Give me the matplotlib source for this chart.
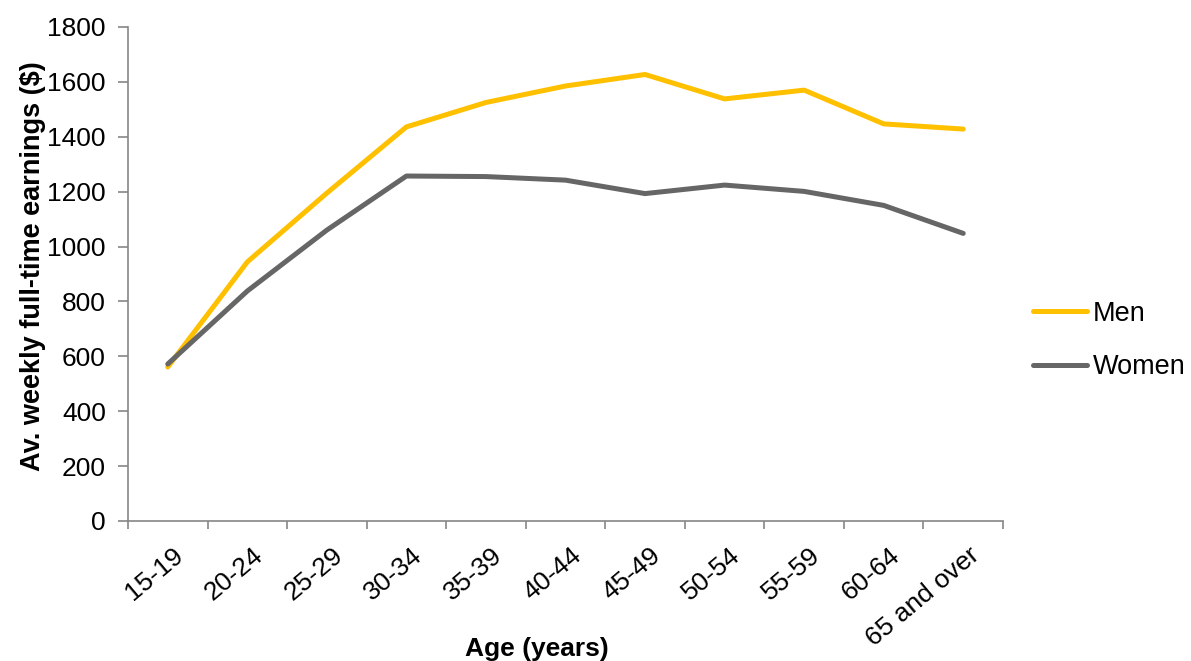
import numpy as np
import matplotlib.pyplot as plt
from matplotlib.ticker import FixedLocator
from matplotlib.transforms import ScaledTranslation

plt.rcParams['font.family'] = ['Liberation Sans', 'DejaVu Sans']

ages = ['15-19', '20-24', '25-29', '30-34', '35-39', '40-44', '45-49',
        '50-54', '55-59', '60-64', '65 and over']
men = [561, 944, 1195, 1436, 1525, 1585, 1627, 1538, 1570, 1447, 1428]
women = [572, 838, 1060, 1257, 1255, 1242, 1193, 1224, 1201, 1150, 1048]

fig = plt.figure(figsize=(11.91, 6.61), dpi=100)
ax = fig.add_axes([128 / 1191, 1 - 521 / 661, (1003 - 128) / 1191, (521 - 27) / 661])

x = np.arange(len(ages))
ax.plot(x, men, color='#FFC000', lw=3.6, label='Men', solid_capstyle='round')
ax.plot(x, women, color='#666666', lw=3.6, label='Women', solid_capstyle='round')

ax.set_xlim(-0.5, len(ages) - 0.5)
ax.set_ylim(0, 1800)
ax.set_yticks(np.arange(0, 1801, 200))

# ticks at category boundaries, labels at centres
ax.xaxis.set_major_locator(FixedLocator(x))
ax.xaxis.set_minor_locator(FixedLocator(np.arange(-0.5, len(ages), 1)))
ax.set_xticklabels(ages, rotation=40, ha='right', va='top', rotation_mode='anchor')
ax.tick_params(axis='x', which='major', length=0, pad=16, labelsize=19)
ax.tick_params(axis='x', which='minor', length=6, width=1.2, color='#868686')
ax.tick_params(axis='y', length=7, width=1.2, color='#868686', labelsize=19, pad=9)
shift = ScaledTranslation(5 / 100, 0, fig.dpi_scale_trans)
for lab in ax.get_xticklabels():
    lab.set_transform(lab.get_transform() + shift)

for s in ['top', 'right']:
    ax.spines[s].set_visible(False)
for s in ['left', 'bottom']:
    ax.spines[s].set_color('#868686')
    ax.spines[s].set_linewidth(1.2)

ax.set_ylabel('Av. weekly full-time earnings ($)', fontsize=19.5, fontweight='bold')
ax.yaxis.set_label_coords(-0.094, 0.516)
ax.set_xlabel('Age (years)', fontsize=19, fontweight='bold')
ax.xaxis.set_label_coords(0.467, -0.235)

fig.legend(loc='center left', bbox_to_anchor=(1033 / 1191, 1 - 340.5 / 661), frameon=False,
           fontsize=19.5, handlelength=2.0, labelspacing=1.0, handletextpad=0.2,
           borderpad=0, borderaxespad=0)

fig.savefig('out.png', dpi=100)
